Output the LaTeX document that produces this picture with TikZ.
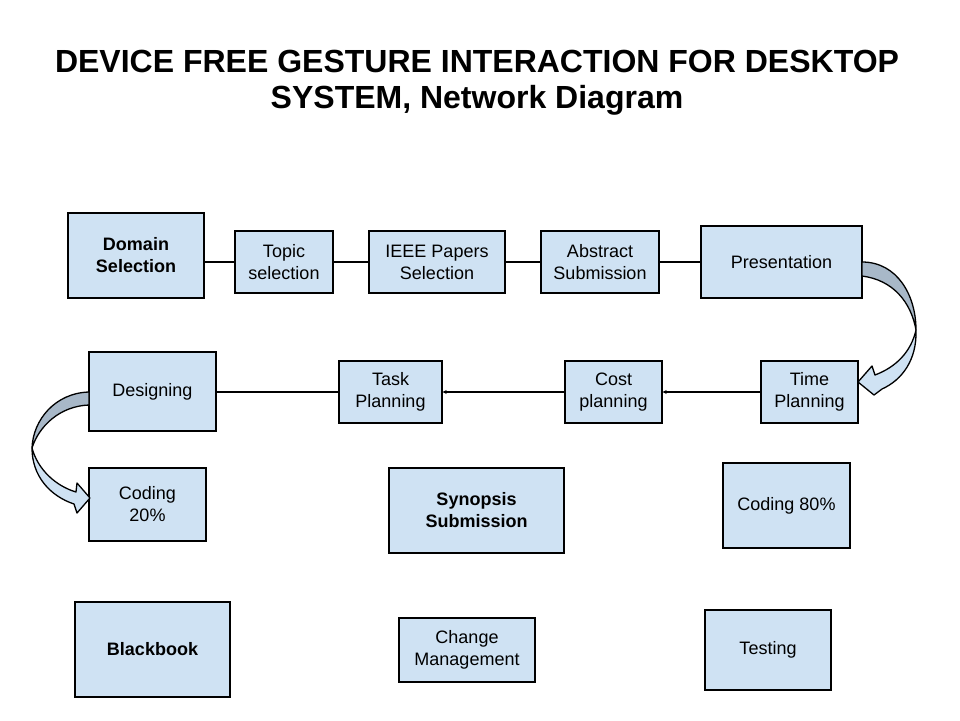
\documentclass[tikz,border=0pt]{standalone}
\usepackage{fontspec}
\setmainfont{Liberation Sans}
\usetikzlibrary{arrows.meta}
\definecolor{boxblue}{HTML}{CFE2F3}
\definecolor{backblue}{HTML}{A8B8C8}
\begin{document}
\begin{tikzpicture}[x=1pt,y=-1pt,
  box/.style={draw=black, line width=1.3pt, fill=boxblue, rectangle, inner sep=0pt, align=center,
    font=\fontsize{18}{22}\selectfont},
  boldbox/.style={box, font=\fontsize{18}{22}\selectfont\bfseries},
  link/.style={line width=2.2pt},
  thinlink/.style={line width=1.4pt, -{Stealth[length=4pt,width=4pt]}},
  bandback/.style={fill=backblue, draw=black, line width=1.3pt, line join=round},
  bandfront/.style={fill=boxblue, draw=black, line width=1.3pt, line join=round}]
\useasboundingbox (0,0) rectangle (960,720);
% title
\node[align=center, font=\fontsize{32}{36}\selectfont\bfseries] (title) at (477,83)
  {DEVICE FREE GESTURE INTERACTION FOR DESKTOP\\SYSTEM, Network Diagram};
% row 1
\node[boldbox, minimum width=136pt, minimum height=85pt] (dom) at (136,255.5) {Domain\\Selection};
\node[box, minimum width=98pt, minimum height=62pt] (top) at (284,262) {Topic\\selection};
\node[box, minimum width=136pt, minimum height=62pt] (ieee) at (437,262) {IEEE Papers\\Selection};
\node[box, minimum width=118pt, minimum height=62pt] (abs) at (600,262) {Abstract\\Submission};
\node[box, minimum width=161pt, minimum height=72pt] (pres) at (781.5,262) {Presentation};
% row 2
\node[box, minimum width=97pt, minimum height=62pt] (time) at (809.5,392) {Time\\Planning};
\node[box, minimum width=97pt, minimum height=62pt] (cost) at (613.5,392) {Cost\\planning};
\node[box, minimum width=103pt, minimum height=62pt] (task) at (390.5,392) {Task\\Planning};
\node[box, minimum width=127pt, minimum height=79pt] (des) at (152.5,391.5) {Designing};
% row 3
\node[box, minimum width=117pt, minimum height=73pt] (cod20) at (147.5,504.5) {Coding\\20\%};
\node[boldbox, minimum width=175pt, minimum height=85pt] (syn) at (476.5,510.5) {Synopsis\\Submission};
\node[box, minimum width=127pt, minimum height=85pt] (cod80) at (786.5,505.5) {Coding 80\%};
% row 4
\node[boldbox, minimum width=155pt, minimum height=95pt] (black) at (152.5,649.5) {Blackbook};
\node[box, minimum width=136pt, minimum height=64pt] (chg) at (467,650) {Change\\Management};
\node[box, minimum width=126pt, minimum height=80pt] (test) at (768,650) {Testing};
% connectors row 1
\draw[link] (dom.east |- top.west) -- (top.west);
\draw[link] (top.east) -- (ieee.west);
\draw[link] (ieee.east) -- (abs.west);
\draw[link] (abs.east) -- (pres.west |- abs.east);
% connectors row 2
\draw[thinlink] (time.west) -- (cost.east);
\draw[thinlink] (cost.west) -- (task.east);
\draw[link] (des.east |- task.west) -- (task.west);
% curved arrow 1: Presentation -> Time Planning
\coordinate (a1s1) at (862,262);
\coordinate (a1s2) at (862,276);
\coordinate (a1m) at (916,330);
\draw[bandback] (a1s1) .. controls (897,262) and (916,295) .. (a1m)
  .. controls (911,302) and (893,280) .. (a1s2) -- cycle;
\draw[bandfront] (a1m) .. controls (917,360) and (902,380) .. (882,389)
  -- (874,395) -- (858,382) -- (872,366) -- (875,375)
  .. controls (896,367) and (911,352) .. (a1m) -- cycle;
% curved arrow 2: Designing -> Coding 20%
\coordinate (a2s1) at (89,392);
\coordinate (a2s2) at (89,405);
\coordinate (a2m) at (32,448);
\draw[bandback] (a2s1) .. controls (55,393) and (33,420) .. (a2m)
  .. controls (39,426) and (60,406) .. (a2s2) -- cycle;
\draw[bandfront] (a2m) .. controls (32,476) and (50,496) .. (74,504)
  -- (77,513) -- (90,498) -- (77,483) -- (76,492)
  .. controls (56,486) and (38,470) .. (a2m) -- cycle;
\end{tikzpicture}
\end{document}
